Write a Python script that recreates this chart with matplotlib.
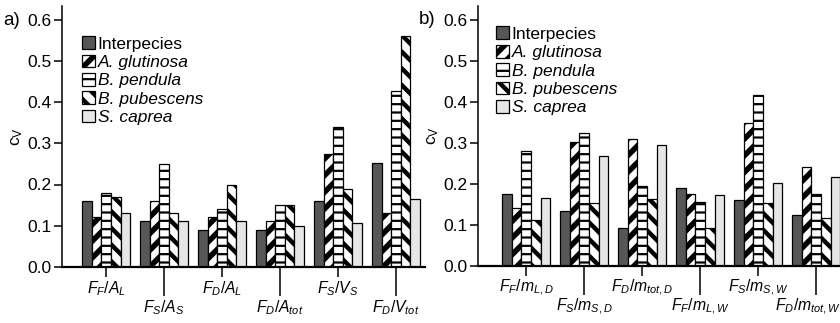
import matplotlib
matplotlib.use("Agg")
import matplotlib.pyplot as plt
import matplotlib.patches as mpatches
import matplotlib.transforms as mtransforms
import numpy as np

plt.rcParams['font.family'] = ['Liberation Sans', 'DejaVu Sans']
plt.rcParams['mathtext.fontset'] = 'custom'
plt.rcParams['mathtext.it'] = 'Liberation Sans:italic'
plt.rcParams['mathtext.rm'] = 'Liberation Sans'
plt.rcParams['mathtext.sf'] = 'Liberation Sans'

series = ["Interpecies", "A. glutinosa", "B. pendula", "B. pubescens", "S. caprea"]

labels_a = [r"$F_F/A_L$", r"$F_S/A_S$", r"$F_D/A_L$", r"$F_D/A_{tot}$", r"$F_S/V_S$", r"$F_D/V_{tot}$"]
interp_a = [0.16, 0.11, 0.09, 0.09, 0.16, 0.253]
aglut_a = [0.12, 0.16, 0.12, 0.11, 0.273, 0.131]
bpend_a = [0.18, 0.25, 0.14, 0.15, 0.34, 0.428]
bpub_a = [0.17, 0.13, 0.20, 0.15, 0.189, 0.561]
scap_a = [0.13, 0.11, 0.11, 0.10, 0.107, 0.165]

labels_b = [r"$F_F/m_{L,D}$", r"$F_S/m_{S,D}$", r"$F_D/m_{tot,D}$", r"$F_F/m_{L,W}$", r"$F_S/m_{S,W}$", r"$F_D/m_{tot,W}$"]
interp_b = [0.174, 0.134, 0.093, 0.189, 0.160, 0.123]
aglut_b = [0.141, 0.301, 0.309, 0.175, 0.349, 0.241]
bpend_b = [0.279, 0.325, 0.194, 0.155, 0.416, 0.175]
bpub_b = [0.111, 0.153, 0.164, 0.091, 0.153, 0.117]
scap_b = [0.165, 0.268, 0.294, 0.172, 0.203, 0.217]

styles = [
    dict(facecolor="#575757", hatch=None, hlw=1.0),
    dict(facecolor="white", hatch="//", hlw=4.0),
    dict(facecolor="white", hatch="--", hlw=1.6),
    dict(facecolor="white", hatch="\\\\", hlw=3.2),
    dict(facecolor="#e6e6e6", hatch=None, hlw=1.0),
]


def apply_hatch_lw(artist, lw):
    if hasattr(artist, 'set_hatch_linewidth'):
        artist.set_hatch_linewidth(lw)
    orig = artist.draw

    def draw(renderer, _orig=orig, _lw=lw):
        with plt.rc_context({'hatch.linewidth': _lw}):
            _orig(renderer)
    artist.draw = draw


W, H = 840, 323
fig = plt.figure(figsize=(W / 100, H / 100), dpi=100)

YTOP = 0.635


def make_axes(left_px, right_px, zero_px, per01_px):
    h = YTOP * 10 * per01_px
    return fig.add_axes([left_px / W, (H - zero_px) / H, (right_px - left_px) / W, h / H])


ax_a = make_axes(62, 425, 266.7, 41.1)
ax_b = make_axes(478, 840, 265.7, 40.95)

FS = 12.5
XFS = 11.3


def draw(ax, labels, data, xlim, leg_anchor, panel, ptx, pty):
    x = np.arange(len(labels))
    w = 0.166
    for i, (vals, st) in enumerate(zip(data, styles)):
        with plt.rc_context({'hatch.linewidth': st['hlw']}):
            bars = ax.bar(x + (i - 2) * w, vals, width=w, facecolor=st['facecolor'],
                          edgecolor='black', linewidth=0.9, hatch=st['hatch'], zorder=2)
        for b in bars:
            apply_hatch_lw(b, st['hlw'])
    ax.set_xlim(*xlim)
    ax.set_ylim(0, YTOP)
    ax.set_yticks([0.0, 0.1, 0.2, 0.3, 0.4, 0.5, 0.6])
    ax.set_yticklabels(["0.0", "0.1", "0.2", "0.3", "0.4", "0.5", "0.6"])
    ax.set_xticks(x[0::2])
    ax.set_xticklabels(labels[0::2])
    ax.set_xticks(x[1::2], minor=True)
    ax.set_xticklabels(labels[1::2], minor=True)
    ax.tick_params(axis='x', which='major', length=7.5, width=1.1, pad=1.5, labelsize=XFS)
    ax.tick_params(axis='x', which='minor', length=21, width=1.1, pad=1.5, labelsize=XFS)
    ax.tick_params(axis='y', length=6, width=1.1, pad=1.5, labelsize=FS)
    for s in ['top', 'right']:
        ax.spines[s].set_visible(False)
    ax.spines['left'].set_linewidth(1.1)
    ax.spines['bottom'].set_linewidth(1.6)
    ax.spines['bottom'].set_zorder(3)
    ax.set_ylabel(r"$\mathregular{c_V}$", fontsize=FS, labelpad=2)

    handles = []
    for name, st in zip(series, styles):
        with plt.rc_context({'hatch.linewidth': st['hlw']}):
            handles.append(mpatches.Patch(facecolor=st['facecolor'], edgecolor='black',
                                          linewidth=0.9, hatch=st['hatch'], label=name))
    with plt.rc_context({'hatch.linewidth': 3.0}):
        leg = ax.legend(handles=handles, loc='upper left', bbox_to_anchor=leg_anchor, frameon=False,
                        borderpad=0, borderaxespad=0, handlelength=0.75, handleheight=0.75,
                        handletextpad=0.15, labelspacing=0.17, fontsize=FS)
    for t in leg.get_texts()[1:]:
        t.set_style('italic')
    for hnd, st in zip(leg.legend_handles, styles):
        apply_hatch_lw(hnd, st['hlw'])
    fig.text(ptx, pty, panel, fontsize=13.5, ha='left', va='center')
    return ax


draw(ax_a, labels_a, [interp_a, aglut_a, bpend_a, bpub_a, scap_a], (-0.76, 5.5),
     (0.055, 0.883), "a)", 0.004, 0.935)
draw(ax_b, labels_b, [interp_b, aglut_b, bpend_b, bpub_b, scap_b], (-0.83, 5.41),
     (0.05, 0.92), "b)", 0.499, 0.94)

# the last label of panel b sits slightly left of its tick, as in the reference
last = ax_b.xaxis.get_minor_ticks()[-1].label1
last.set_transform(last.get_transform() + mtransforms.ScaledTranslation(-8 / 100, 0, fig.dpi_scale_trans))

fig.savefig("out.png", dpi=100)
